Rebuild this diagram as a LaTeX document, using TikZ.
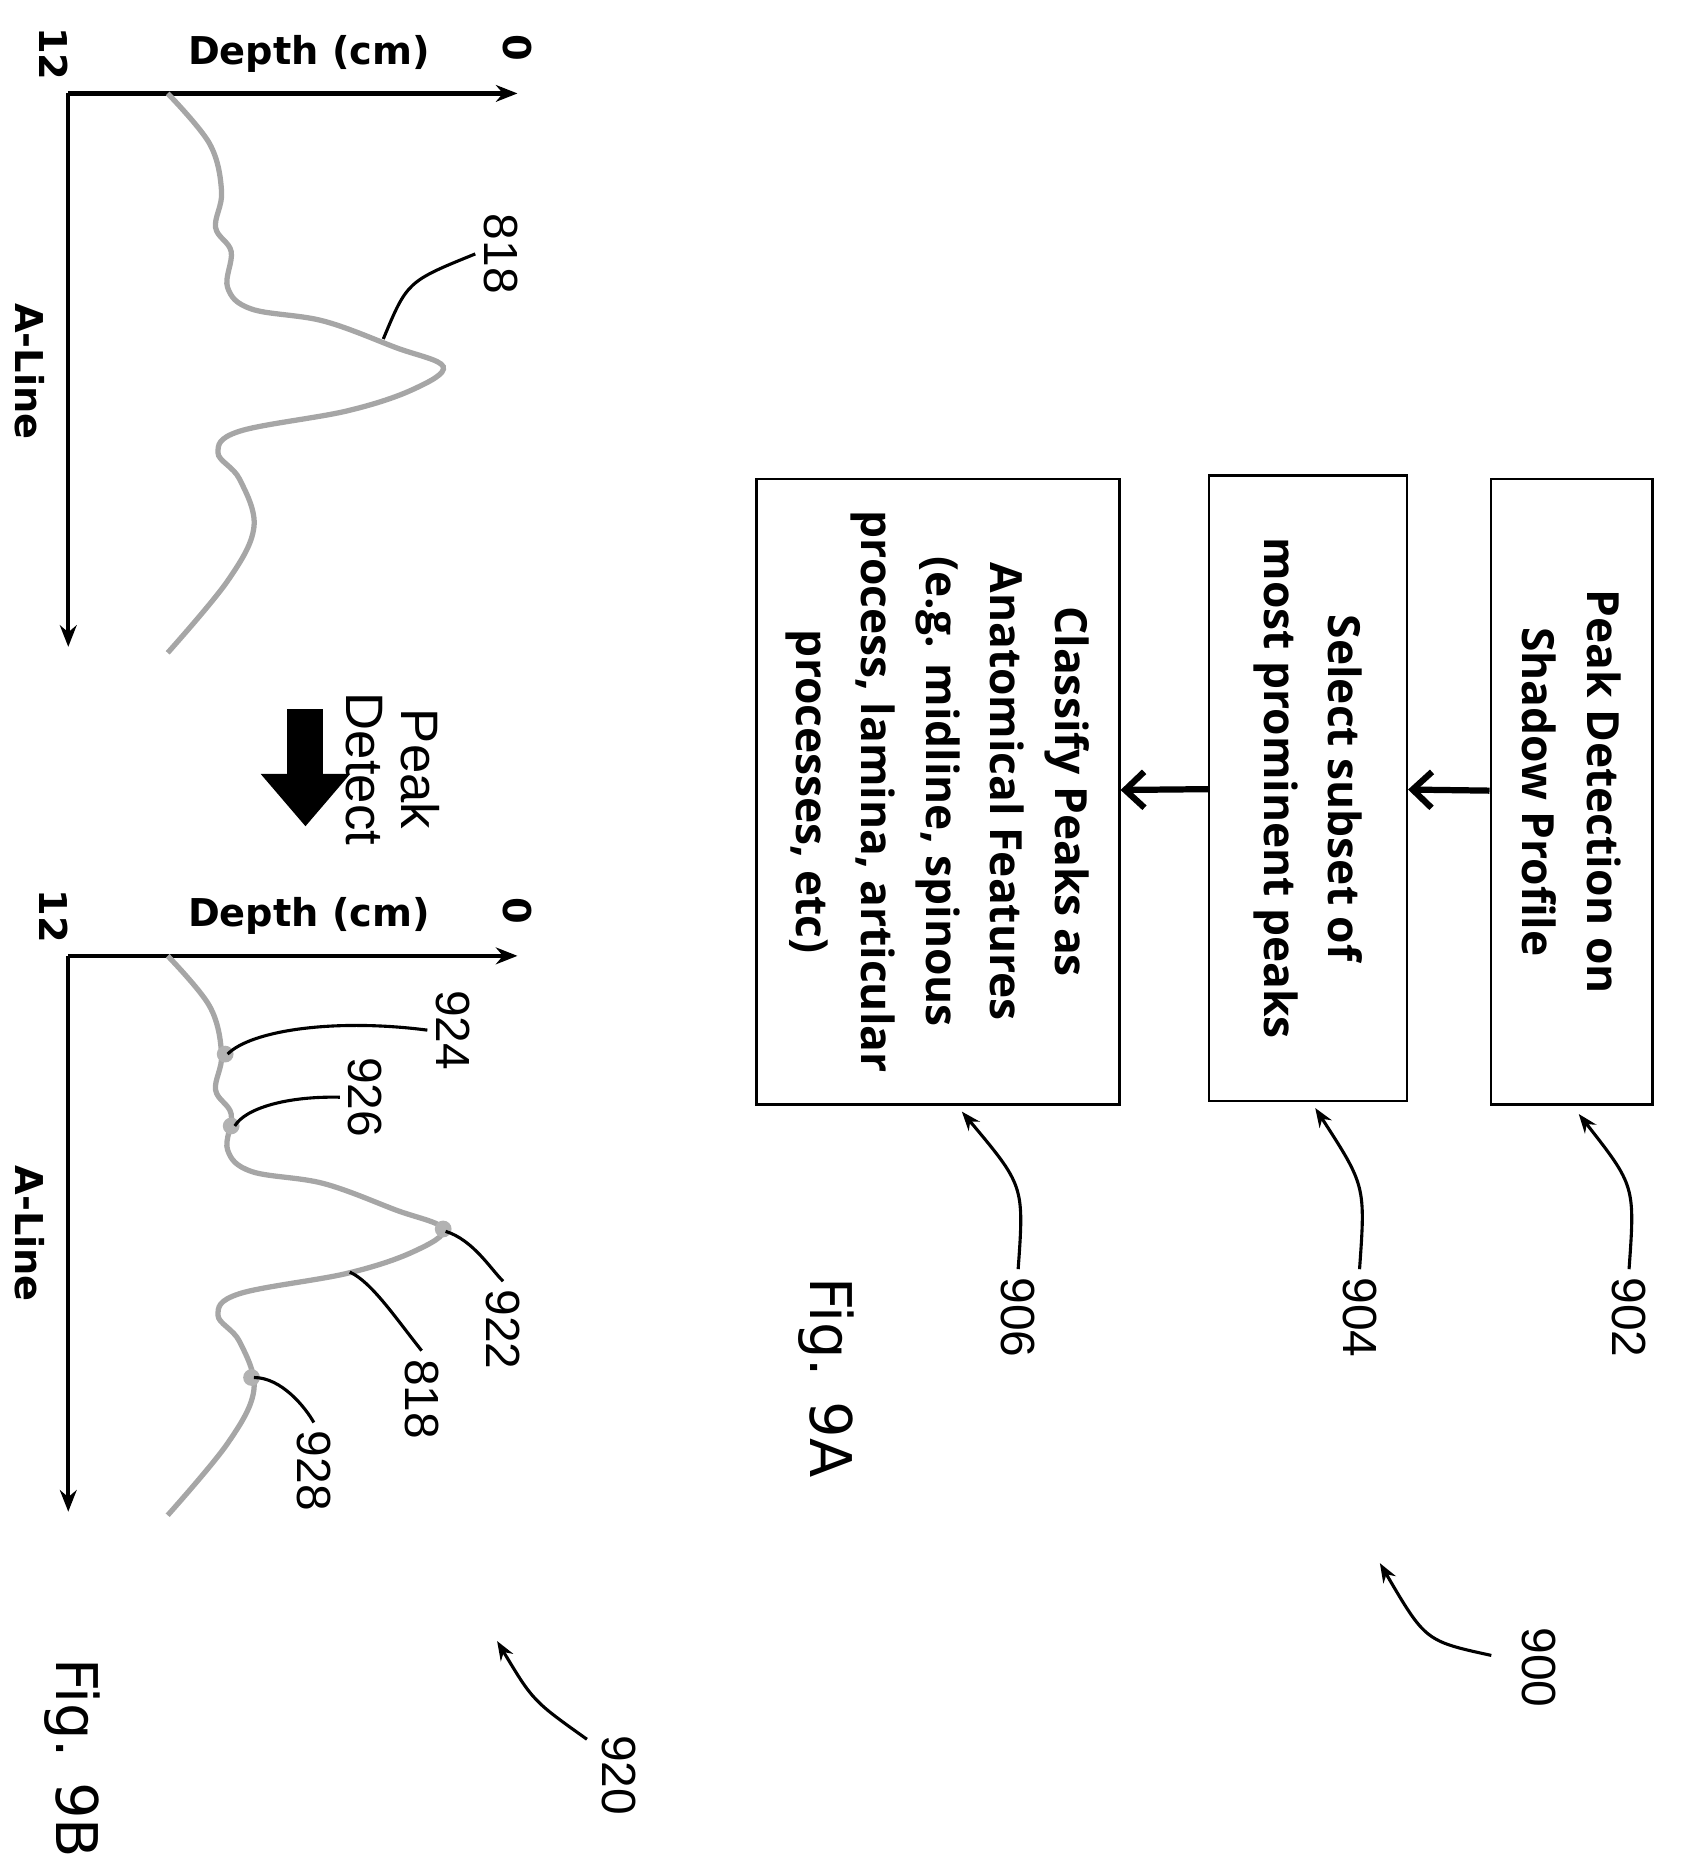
\documentclass[tikz,border=0pt]{standalone}
\usepackage{fontspec}
\setmainfont{DejaVu Sans}
\newfontfamily\boxf{Open Sans}
\newfontfamily\numf{Liberation Sans}
\usetikzlibrary{arrows.meta}
\begin{document}
\begin{tikzpicture}[x=0.5pt,y=-0.5pt,
  box/.style={draw,line width=1pt,rotate=-90,align=center,font=\boxf\bfseries\fontsize{18.5}{27}\selectfont},
  num/.style={rotate=-90,font=\numf\fontsize{20}{24}\selectfont},
  lab/.style={font=\bfseries\fontsize{16}{18}\selectfont},
  lead/.style={line width=1.3pt},
  ax/.style={line width=1.8pt,-{Stealth[length=9pt,width=7pt]}},
  curve/.style={gray!70,line width=2.2pt},
  flow/.style={line width=2.6pt,-{Straight Barb[length=8pt,width=15pt,line width=2.6pt]}},
  fig/.style={rotate=-90,font=\fontsize{24}{28}\selectfont}]
\useasboundingbox (0,0) rectangle (1422,1562);
% boxes
\node[box,minimum width=261pt,minimum height=67.5pt] (b1) at (1312,661) {Peak Detection on\\Shadow Profile};
\node[box,minimum width=261pt,minimum height=82.5pt] (b2) at (1092,658) {Select subset of\\most prominent peaks};
\node[box,minimum width=261pt,minimum height=151.5pt] (b3) at (783,661) {Classify Peaks as\\Anatomical Features\\(e.g. midline, spinous\\process, lamina, articular\\processes, etc)};
\draw[flow] (b1) -- (b2);
\draw[flow] (b2) -- (b3);
% labels 9A
\node[num] (n902) at (1360,1100) {902};
\node[num] (n904) at (1135,1100) {904};
\node[num] (n906) at (850,1100) {906};
\node[num] (n900) at (1285,1392) {900};
\coordinate (t902) at (1318,930);
\coordinate (t904) at (1098,925);
\coordinate (t906) at (803,928);
\coordinate (t900) at (1152,1305);
\draw[lead,-{Stealth[length=8pt,width=6pt]}] (n902.west) .. controls (1365,990) .. (t902);
\draw[lead,-{Stealth[length=8pt,width=6pt]}] (n904.west) .. controls (1140,990) .. (t904);
\draw[lead,-{Stealth[length=8pt,width=6pt]}] (n906.west) .. controls (855,990) .. (t906);
\draw[lead,-{Stealth[length=8pt,width=6pt]}] (1245,1382) .. controls (1190,1370) .. (t900);
\node[fig] (f9a) at (690,1150) {Fig. 9A};
% top graph
\coordinate (o1) at (57,78);
\coordinate (x1) at (432,78);
\coordinate (y1) at (57,540);
\draw[ax] (o1) -- (x1);
\draw[ax] (o1) -- (y1);
\node[lab,rotate=-90] (l12a) at (45,45) {12};
\node[lab] (dpa) at (258,45) {Depth (cm)};
\node[lab,rotate=-90] (l0a) at (432,40) {0};
\node[lab,rotate=-90] (ala) at (25,310) {A-Line};
\draw[curve] plot[smooth,tension=0.6] coordinates {(140,78) (175,120) (185,160) (180,190) (193,210) (190,240) (210,258) (270,268) (330,290) (370,306) (345,325) (290,343) (200,360) (182,378) (200,400) (212,440) (190,485) (140,545)};
\node[num] (n818a) at (418,212) {818};
\draw[lead] (n818a.south) .. controls (340,235) .. (320,283);
% peak detect
\coordinate (pa) at (255,592);
\coordinate (pb) at (255,690);
\draw[line width=15pt,-{Triangle[length=22pt,width=36pt]}] (pa) -- (pb);
\node[num,align=center,font=\numf\fontsize{22}{23}\selectfont] (pd) at (328,642) {Peak\\Detect};
% bottom graph
\coordinate (o2) at (57,798);
\coordinate (x2) at (432,798);
\coordinate (y2) at (57,1262);
\draw[ax] (o2) -- (x2);
\draw[ax] (o2) -- (y2);
\node[lab,rotate=-90] (l12b) at (45,765) {12};
\node[lab] (dpb) at (258,765) {Depth (cm)};
\node[lab,rotate=-90] (l0b) at (432,760) {0};
\node[lab,rotate=-90] (alb) at (25,1030) {A-Line};
\draw[curve] plot[smooth,tension=0.6] coordinates {(140,798) (175,840) (185,880) (180,910) (193,930) (190,960) (210,978) (270,988) (330,1010) (370,1026) (345,1045) (290,1063) (200,1080) (182,1098) (200,1120) (212,1160) (190,1205) (140,1265)};
\foreach \p in {(188,880),(193,940),(370,1026),(210,1150)} \fill[gray!60] \p circle (7);
\node[num] (n924) at (378,860) {924};
\node[num] (n926) at (305,916) {926};
\node[num] (n922) at (420,1110) {922};
\node[num] (n818b) at (352,1168) {818};
\node[num] (n928) at (262,1228) {928};
\draw[lead] (n924.south) .. controls (280,850) and (210,860) .. (190,880);
\draw[lead] (n926.south) .. controls (240,915) and (205,925) .. (196,940);
\draw[lead] (n922.west) .. controls (410,1060) and (395,1035) .. (372,1028);
\draw[lead] (n818b.west) .. controls (330,1100) and (310,1070) .. (292,1062);
\draw[lead] (n928.west) .. controls (255,1175) and (235,1150) .. (212,1150);
\node[fig] (f9b) at (60,1468) {Fig. 9B};
\node[num] (n920) at (517,1482) {920};
\coordinate (t920) at (415,1370);
\draw[lead,-{Stealth[length=8pt,width=6pt]}] (490,1452) .. controls (445,1420) .. (t920);
\end{tikzpicture}
\end{document}
